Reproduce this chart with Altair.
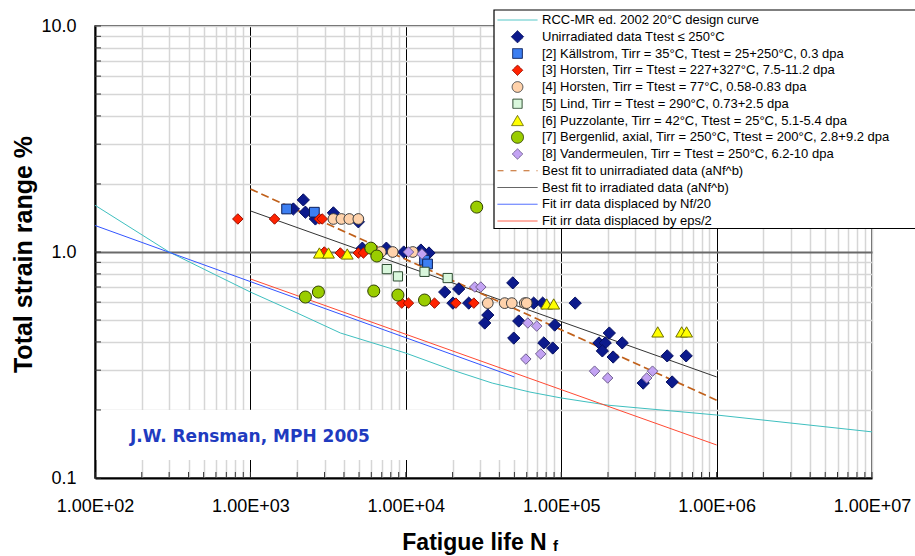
import altair as alt
import pandas as pd

# ---------------- series names (legend order) ----------------
series_names = [
    "RCC-MR ed. 2002 20°C design curve",
    "Unirradiated data Ttest ≤ 250°C",
    "[2] Källstrom, Tirr = 35°C, Ttest = 25+250°C, 0.3 dpa",
    "[3] Horsten, Tirr = Ttest = 227+327°C, 7.5-11.2 dpa",
    "[4] Horsten, Tirr = Ttest = 77°C, 0.58-0.83 dpa",
    "[5] Lind, Tirr = Ttest = 290°C, 0.73+2.5 dpa",
    "[6] Puzzolante, Tirr = 42°C, Ttest = 25°C, 5.1-5.4 dpa",
    "[7] Bergenlid, axial, Tirr = 250°C, Ttest = 200°C, 2.8+9.2 dpa",
    "[8] Vandermeulen, Tirr = Ttest = 250°C, 6.2-10 dpa",
    "Best fit to unirradiated data (aNf^b)",
    "Best fit to irradiated data (aNf^b)",
    "Fit irr data displaced by Nf/20",
    "Fit irr data displaced by eps/2",
]

# ---------------- curves ----------------
rcc_N = [100, 300, 1000, 2000, 3800, 10000, 20000, 36000, 63000, 100000, 200000, 1000000, 10000000]
rcc_e = [1.61, 1.0, 0.665, 0.537, 0.438, 0.357, 0.30, 0.263, 0.24, 0.226, 0.21, 0.19, 0.16]
unirr_fit_N = [1000, 1000000]
unirr_fit_e = [1.90, 0.221]
irr_fit_N = [1000, 1000000]
irr_fit_e = [1.52, 0.28]
nf20_N = [100, 50000]
nf20_e = [1.31, 0.28]
eps2_N = [1000, 1000000]
eps2_e = [0.76, 0.14]

# ---------------- data points ----------------
unirr_N = [1890, 2190, 2260, 2620, 3420, 4950, 5250, 7500, 9700, 12500,
           14100, 17800, 21900, 20100, 25400, 48800, 66500, 76000, 123000, 33700,
           32200, 53300, 90800, 49500, 77300, 88200, 204000, 175000, 192000, 184000,
           247000, 216000, 481000, 637000, 518000, 337000]
unirr_e = [1.55, 1.70, 1.50, 1.40, 1.49, 1.36, 1.04, 1.04, 1.0, 1.02,
           0.99, 0.665, 0.686, 0.594, 0.594, 0.73, 0.594, 0.594, 0.594, 0.526,
           0.485, 0.495, 0.475, 0.416, 0.396, 0.376, 0.438, 0.396, 0.396, 0.365,
           0.396, 0.343, 0.347, 0.347, 0.266, 0.263]
kall_N = [1710, 2580, 13200, 13800]
kall_e = [1.55, 1.50, 0.92, 0.885]
hors3_N = [830, 1430, 2780, 2900, 2990, 3790, 4950, 5340, 9420, 10400, 15300, 21000, 27400]
hors3_e = [1.40, 1.40, 1.40, 1.40, 1.0, 0.99, 0.99, 0.99, 0.594, 0.594, 0.594, 0.594, 0.594]
hors4_N = [3420, 3850, 4330, 4950, 6900, 8240, 11100, 33700, 43300, 48100, 58300, 60000]
hors4_e = [1.40, 1.40, 1.40, 1.40, 1.0, 1.0, 1.0, 0.594, 0.594, 0.594, 0.594, 0.594]
lind_N = [7550, 8900, 13200, 18600]
lind_e = [0.84, 0.78, 0.817, 0.767]
puzz_N = [2780, 3180, 4200, 80700, 89500, 418000, 596000, 641000]
puzz_e = [0.99, 0.99, 0.98, 0.589, 0.589, 0.443, 0.443, 0.443]
berg_N = [5960, 6510, 2260, 2740, 6220, 8900, 13200, 28600]
berg_e = [1.04, 0.96, 0.632, 0.665, 0.672, 0.645, 0.613, 1.58]
vand_N = [10400, 12700, 27800, 30400, 61000, 69600, 73800, 59200, 164000, 199000, 387000, 355000]
vand_e = [1.0, 0.98, 0.70, 0.70, 0.485, 0.47, 0.354, 0.336, 0.297, 0.277, 0.297, 0.277]

# ---------------- ticks ----------------
x_ticks = [m * 10 ** k for k in range(2, 7) for m in range(1, 10)] + [10 ** 7]
x_label_vals = [100, 1000, 10000, 100000, 1000000, 10000000]
x_label_text = ["1.00E+02", "1.00E+03", "1.00E+04", "1.00E+05", "1.00E+06", "1.00E+07"]
y_ticks = [0.1, 0.2, 0.3, 0.4, 0.5, 0.6, 0.7, 0.8, 0.9, 1, 2, 3, 4, 5, 6, 7, 8, 9, 10]
y_label_vals = [0.1, 1, 10]
y_label_text = ["0.1", "1.0", "10.0"]

# ---------------- styles ----------------
fill_range = ["transparent", "#0c1a8c", "#3d7ff2", "#ff2200", "#ffd2ab", "#d9f7dc",
              "#ffff00", "#9acd00", "#c3a3f3", "transparent", "transparent", "transparent", "transparent"]
stroke_range = ["#3fbfbf", "#061060", "#0a1e5a", "#9a1000", "#404040", "#2c4a30",
                "#6e6e00", "#2f3f00", "#6f5f8f", "#c0601a", "#333333", "#3355ff", "#ff4a33"]
shape_range = ["stroke", "diamond", "square", "diamond", "circle", "square",
               "triangle-up", "circle", "diamond", "stroke", "stroke", "stroke", "stroke"]
size_range = [1600, 150, 95, 110, 115, 85, 140, 145, 110, 1600, 1600, 1600, 1600]
dash_range = [[1, 0]] * 9 + [[6, 7], [1, 0], [1, 0], [1, 0]]

# ---------------- tables ----------------
line_sets = [(0, rcc_N, rcc_e), (10, irr_fit_N, irr_fit_e), (11, nf20_N, nf20_e), (12, eps2_N, eps2_e)]
line_rows = []
for idx, ns, es in line_sets:
    for n, e in zip(ns, es):
        line_rows.append({"series": series_names[idx], "N": n, "strain": e})
line_df = pd.DataFrame(line_rows)
dash_df = pd.DataFrame({"series": series_names[9], "N": unirr_fit_N, "strain": unirr_fit_e})

point_sets = [(1, unirr_N, unirr_e), (2, kall_N, kall_e), (3, hors3_N, hors3_e), (4, hors4_N, hors4_e),
              (5, lind_N, lind_e), (6, puzz_N, puzz_e), (7, berg_N, berg_e), (8, vand_N, vand_e)]
point_rows = []
for idx, ns, es in point_sets:
    for n, e in zip(ns, es):
        point_rows.append({"series": series_names[idx], "N": n, "strain": e})
point_df = pd.DataFrame(point_rows)
legend_df = pd.DataFrame({"series": series_names})

# ---------------- scales / axes ----------------
FONT = "Liberation Sans"
xscale = alt.Scale(type="log", domain=[100, 10000000], nice=False)
yscale = alt.Scale(type="log", domain=[0.1, 10], nice=False)

xl_vals = ",".join(str(v) for v in x_label_vals)
xl_txt = ",".join("'%s'" % t for t in x_label_text)
x_label_expr = "indexof([%s], datum.value) >= 0 ? [%s][indexof([%s], datum.value)] : ''" % (xl_vals, xl_txt, xl_vals)
yl_vals = ",".join(str(v) for v in y_label_vals)
yl_txt = ",".join("'%s'" % t for t in y_label_text)
y_label_expr = "indexof([%s], datum.value) >= 0 ? [%s][indexof([%s], datum.value)] : ''" % (yl_vals, yl_txt, yl_vals)

xaxis = alt.Axis(
    values=x_ticks, labelExpr=x_label_expr, ticks=False,
    gridColor={"condition": {"test": "indexof([1000,10000,100000,1000000], datum.value) >= 0", "value": "#000000"}, "value": "#d6d6d6"},
    gridWidth={"condition": {"test": "indexof([1000,10000,100000,1000000], datum.value) >= 0", "value": 1}, "value": 1.5},
    domainColor="#000000", domainWidth=2,
    labelFont=FONT, labelFontSize=18, labelColor="#000000", labelPadding=19,
    labelOverlap=False, labelFlush=False,
    title="Fatigue life N", titleFont=FONT, titleFontSize=23, titleFontWeight="bold", titleColor="#000000",
    titleX=379, titleY=71, titleAlign="center", titleBaseline="alphabetic",
)
yaxis = alt.Axis(
    values=y_ticks, labelExpr=y_label_expr, ticks=False,
    gridColor={"condition": {"test": "datum.value == 1", "value": "#6a6a6a"}, "value": "#d6d6d6"},
    gridWidth={"condition": {"test": "datum.value == 1", "value": 2.2}, "value": 1.5},
    domainColor="#000000", domainWidth=2,
    labelFont=FONT, labelFontSize=18, labelColor="#000000", labelPadding=19,
    labelOverlap=False, labelFlush=False,
    title="Total strain range %", titleFont=FONT, titleFontSize=25, titleFontWeight="bold", titleColor="#000000",
    titleAngle=270, titleX=-72, titleY=228, titleAlign="center", titleBaseline="middle",
)

X = alt.X("N:Q", scale=xscale, axis=xaxis)
Y = alt.Y("strain:Q", scale=yscale, axis=yaxis)

LEG = alt.Legend(
    title=None, orient="none", legendX=399, legendY=-16, direction="vertical",
    padding=3,
    labelFont=FONT, labelFontSize=13, labelColor="black", labelLimit=900, labelOffset=4,
    clipHeight=14, rowPadding=2.75, symbolStrokeWidth=1, symbolOpacity=1,
)

fill_scale = alt.Scale(domain=series_names, range=fill_range)
stroke_scale = alt.Scale(domain=series_names, range=stroke_range)
shape_scale = alt.Scale(domain=series_names, range=shape_range)
size_scale = alt.Scale(type="ordinal", domain=series_names, range=size_range)
dash_scale = alt.Scale(domain=series_names, range=dash_range)

# ---------------- layers ----------------
lines = alt.Chart(line_df).mark_line(strokeWidth=1, clip=True).encode(
    x=X, y=Y,
    stroke=alt.Stroke("series:N", scale=stroke_scale, legend=None),
    detail="series:N",
)
dashed = alt.Chart(dash_df).mark_line(strokeWidth=1.7, strokeDash=[8, 4], color="#c0601a", clip=True).encode(
    x=X, y=Y
)

box = alt.Chart(pd.DataFrame({"k": [0]})).mark_rect(color="white").encode(
    x=alt.value(1.5), x2=alt.value(432), y=alt.value(384), y2=alt.value(434)
)
stamp = alt.Chart(pd.DataFrame({"k": [0]})).mark_text(
    font="DejaVu Sans", fontWeight="bold", fontSize=17, color="#1f3bbf", align="left", baseline="middle"
).encode(x=alt.value(35), y=alt.value(411), text=alt.value("J.W. Rensman, MPH 2005"))

xt = alt.Chart(pd.DataFrame({"N": x_ticks})).mark_rule(color="#333333", strokeWidth=1).encode(
    x=X, y=alt.value(452), y2=alt.value(446)
)
yt = alt.Chart(pd.DataFrame({"strain": y_ticks})).mark_rule(color="#333333", strokeWidth=1).encode(
    y=Y, x=alt.value(0), x2=alt.value(6)
)

points = alt.Chart(point_df).mark_point(filled=True, opacity=1, strokeWidth=1).encode(
    x=X, y=Y,
    fill=alt.Fill("series:N", scale=fill_scale, legend=None),
    stroke=alt.Stroke("series:N", scale=stroke_scale, legend=None),
    shape=alt.Shape("series:N", scale=shape_scale, legend=None),
    size=alt.Size("series:N", scale=size_scale, legend=None),
)

# legend frame: runs off the right edge like in the original slide
legend_frame = alt.Chart(pd.DataFrame({"k": [0]})).mark_rect(
    fill="white", stroke="black", strokeWidth=1.2
).encode(x=alt.value(399), x2=alt.value(880), y=alt.value(-16), y2=alt.value(202.5))

legend_layer = alt.Chart(legend_df).mark_point(filled=True, opacity=1, strokeWidth=1).encode(
    x=alt.value(-999), y=alt.value(-999),
    fill=alt.Fill("series:N", scale=fill_scale, legend=LEG),
    stroke=alt.Stroke("series:N", scale=stroke_scale, legend=LEG),
    shape=alt.Shape("series:N", scale=shape_scale, legend=LEG),
    size=alt.Size("series:N", scale=size_scale, legend=LEG),
    strokeDash=alt.StrokeDash("series:N", scale=dash_scale, legend=LEG),
)

sub_f = alt.Chart(pd.DataFrame({"k": [0]})).mark_text(
    font=FONT, fontWeight="bold", fontSize=15, color="black", align="left", baseline="alphabetic"
).encode(x=alt.value(458), y=alt.value(525), text=alt.value("f"))

chart = alt.layer(
    lines, dashed, box, stamp, xt, yt, points, legend_frame, legend_layer, sub_f
).resolve_scale(
    fill="independent", stroke="independent", shape="independent", size="independent", strokeDash="independent"
).properties(
    width=777, height=452,
    autosize=alt.AutoSizeParams(type="none"),
    padding={"left": 95, "top": 26, "right": 43, "bottom": 78},
    background="white",
).configure_view(stroke="#222222", strokeWidth=1.5)

chart.save("out.html", embed_options={"renderer": "svg", "actions": False})
